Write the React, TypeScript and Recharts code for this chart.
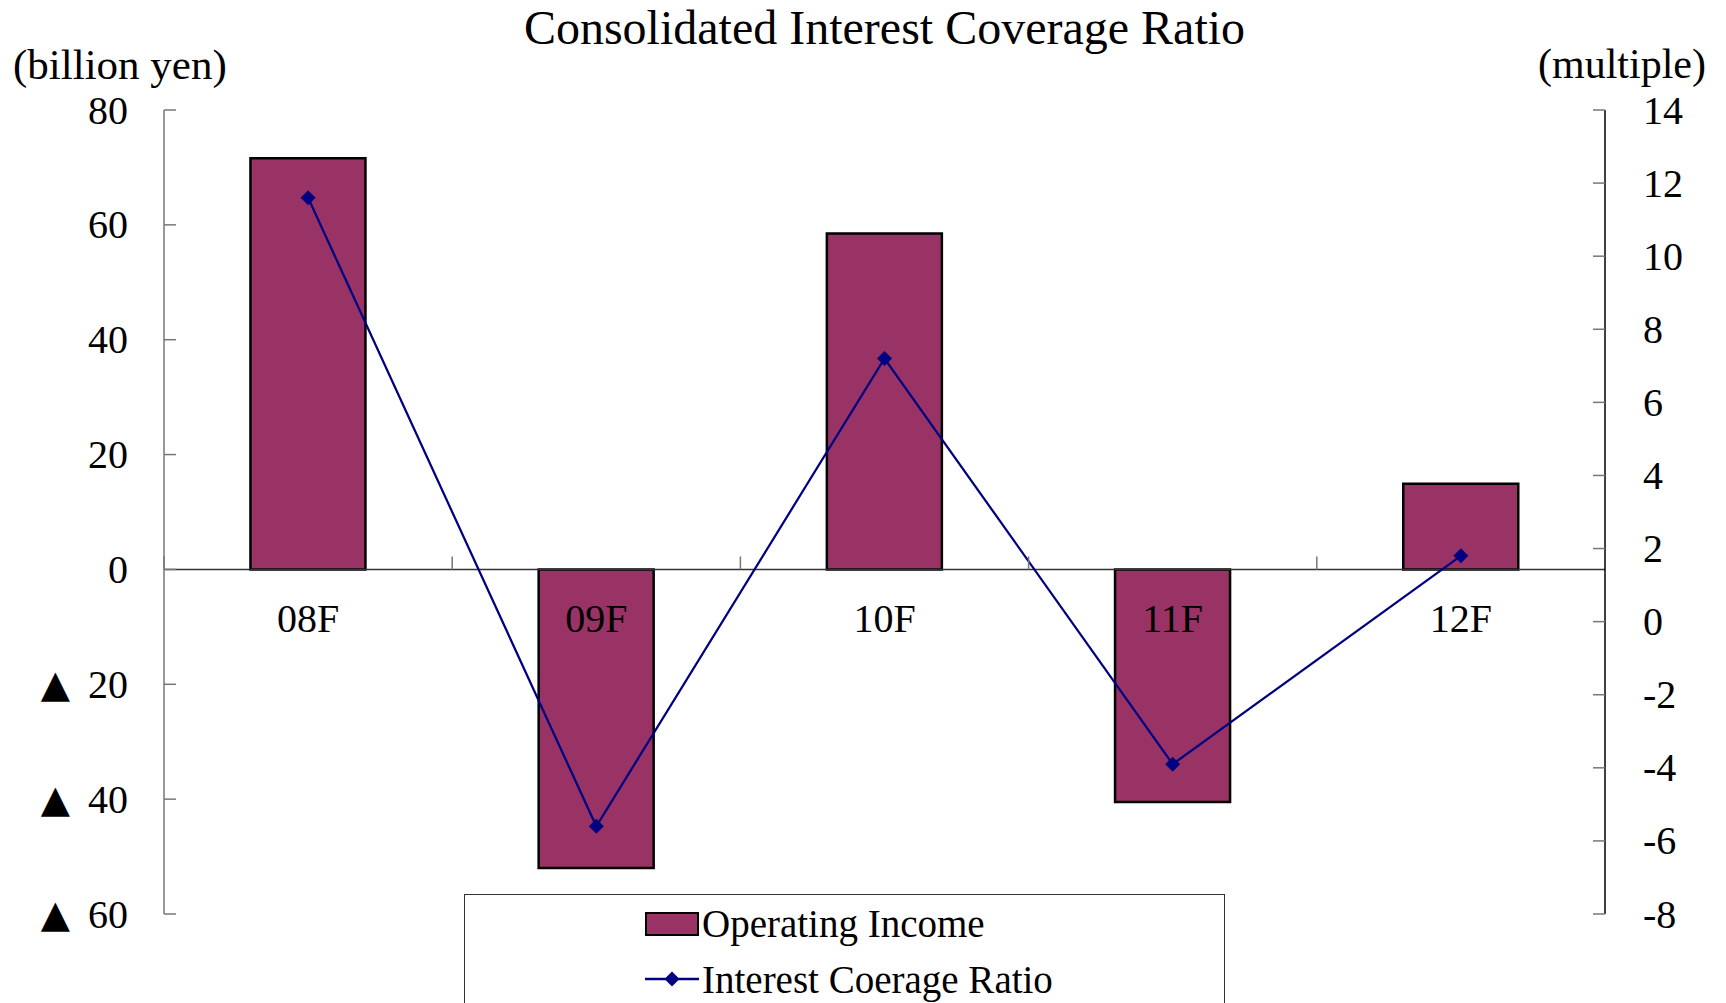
import { Bar, ComposedChart, Legend, Line, ReferenceLine, XAxis, YAxis } from "recharts";

const categories = ["08F", "09F", "10F", "11F", "12F"];
const operatingIncome = [71.6, -52, 58.5, -40.5, 14.9];
const coverageRatio = [11.6, -5.6, 7.2, -3.9, 1.8];
const leftTicks = [-60, -40, -20, 0, 20, 40, 60, 80];
const rightTicks = [-8, -6, -4, -2, 0, 2, 4, 6, 8, 10, 12, 14];

const FONT = '"Liberation Serif", "Times New Roman", serif';
const BAR_COLOR = "#993366";
const LINE_COLOR = "#000080";

const WIDTH = 1726;
const HEIGHT = 1003;
const MARGIN = { top: 110, right: 0, bottom: 88, left: 0 };
const X_AXIS_H = 1;
const LEFT_AXIS_W = 164;
const RIGHT_AXIS_W = 121;
const PLOT_W = WIDTH - LEFT_AXIS_W - RIGHT_AXIS_W;
const PLOT_H = HEIGHT - MARGIN.top - MARGIN.bottom - X_AXIS_H;
const LEFT_MIN = leftTicks[0];
const LEFT_MAX = leftTicks[leftTicks.length - 1];
const ZERO_Y = MARGIN.top + (PLOT_H * LEFT_MAX) / (LEFT_MAX - LEFT_MIN);

const chartData = categories.map((name, i) => ({
  name,
  income: operatingIncome[i],
  ratio: coverageRatio[i]
}));

function CategoryTick(props: any) {
  const { x, payload } = props;
  const band = PLOT_W / categories.length;
  return (
    <g>
      <line x1={x - band / 2} x2={x - band / 2} y1={ZERO_Y - 13} y2={ZERO_Y} stroke="#777" strokeWidth={1.5} />
      <text x={x} y={ZERO_Y + 49} textAnchor="middle" dominantBaseline="central" fontFamily={FONT} fontSize={40} fill="#000">
        {payload.value}
      </text>
    </g>
  );
}

function LeftTick(props: any) {
  const { x, y, payload } = props;
  const v = payload.value;
  return (
    <text x={x} y={y} textAnchor="end" dominantBaseline="central" fontFamily={FONT} fontSize={40} fill="#000">
      {v < 0 ? (
        <>
          <tspan fontFamily="DejaVu Sans" fontSize={38}>▲</tspan>
          <tspan dx={18}>{`${-v}`}</tspan>
        </>
      ) : (
        `${v}`
      )}
    </text>
  );
}

function RightTick(props: any) {
  const { x, y, payload } = props;
  return (
    <text x={x} y={y} textAnchor="start" dominantBaseline="central" fontFamily={FONT} fontSize={40} fill="#000">
      {payload.value}
    </text>
  );
}

function Diamond(props: any) {
  const { cx, cy, index } = props;
  const r = 7.5;
  return (
    <polygon
      key={`d-${index}`}
      points={`${cx},${cy - r} ${cx + r},${cy} ${cx},${cy + r} ${cx - r},${cy}`}
      fill={LINE_COLOR}
    />
  );
}

function LegendBox() {
  return (
    <div
      style={{
        position: "relative",
        width: 759,
        height: 130,
        border: "1px solid #333",
        background: "#fff",
        fontFamily: FONT,
        fontSize: 39,
        color: "#000"
      }}
    >
      <div
        style={{
          position: "absolute",
          left: 180,
          top: 17,
          width: 50,
          height: 20,
          background: BAR_COLOR,
          border: "2px solid #000"
        }}
      />
      <div style={{ position: "absolute", left: 237, top: 28, transform: "translateY(-50%)", lineHeight: 1, whiteSpace: "nowrap" }}>
        Operating Income
      </div>
      <svg style={{ position: "absolute", left: 180, top: 72 }} width={54} height={24}>
        <line x1={0} x2={54} y1={12} y2={12} stroke={LINE_COLOR} strokeWidth={2.5} />
        <polygon points="27,4.5 34.5,12 27,19.5 19.5,12" fill={LINE_COLOR} />
      </svg>
      <div style={{ position: "absolute", left: 237, top: 84, transform: "translateY(-50%)", lineHeight: 1, whiteSpace: "nowrap" }}>
        Interest Coerage Ratio
      </div>
    </div>
  );
}

export default function App() {
  return (
    <div style={{ position: "absolute", left: 0, top: 0, width: WIDTH, height: HEIGHT, background: "#fff", overflow: "hidden" }}>
      <ComposedChart width={WIDTH} height={HEIGHT} data={chartData} margin={MARGIN} barCategoryGap="30%">
        <text x={LEFT_AXIS_W + PLOT_W / 2} y={27} textAnchor="middle" dominantBaseline="central" fontFamily={FONT} fontSize={48} fill="#000">
          Consolidated Interest Coverage Ratio
        </text>
        <text x={13} y={64} textAnchor="start" dominantBaseline="central" fontFamily={FONT} fontSize={43} fill="#000">
          (billion yen)
        </text>
        <text x={1706} y={64} textAnchor="end" dominantBaseline="central" fontFamily={FONT} fontSize={42} fill="#000">
          (multiple)
        </text>
        <YAxis
          yAxisId="left"
          orientation="left"
          width={LEFT_AXIS_W}
          domain={[LEFT_MIN, LEFT_MAX]}
          ticks={leftTicks}
          interval={0}
          allowDataOverflow
          axisLine={{ stroke: "#777", strokeWidth: 1.5 }}
          tickLine={{ stroke: "#777", strokeWidth: 1.5 }}
          tickSize={-12}
          tickMargin={48}
          tick={<LeftTick />}
        />
        <YAxis
          yAxisId="right"
          orientation="right"
          width={RIGHT_AXIS_W}
          domain={[rightTicks[0], rightTicks[rightTicks.length - 1]]}
          ticks={rightTicks}
          interval={0}
          allowDataOverflow
          axisLine={{ stroke: "#000", strokeWidth: 1.5 }}
          tickLine={{ stroke: "#777", strokeWidth: 1.5 }}
          tickSize={-12}
          tickMargin={50}
          tick={<RightTick />}
        />
        <ReferenceLine yAxisId="left" y={0} stroke="#333" strokeWidth={1.5} />
        <Bar yAxisId="left" dataKey="income" fill={BAR_COLOR} stroke="#000" strokeWidth={2.5} isAnimationActive={false} />
        <Line
          yAxisId="right"
          dataKey="ratio"
          stroke={LINE_COLOR}
          strokeWidth={2.25}
          dot={Diamond}
          activeDot={false}
          isAnimationActive={false}
        />
        <XAxis
          dataKey="name"
          height={X_AXIS_H}
          axisLine={false}
          tickLine={false}
          tick={<CategoryTick />}
          interval={0}
        />
        <Legend
          layout="vertical"
          align="center"
          verticalAlign="middle"
          wrapperStyle={{ position: "absolute", left: 464, top: 894, width: 761 }}
          content={() => <LegendBox />}
        />
      </ComposedChart>
    </div>
  );
}
